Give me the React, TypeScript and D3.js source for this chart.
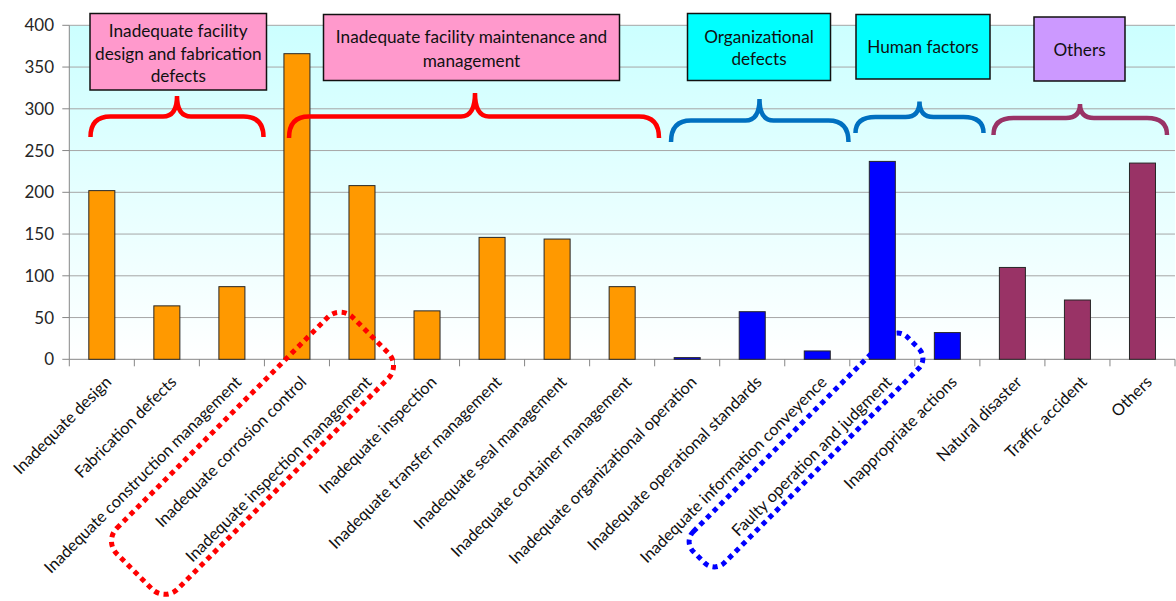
import React from "react";
import * as d3 from "d3";

const categories = [
  "Inadequate design",
  "Fabrication defects",
  "Inadequate construction management",
  "Inadequate corrosion control",
  "Inadequate inspection management",
  "Inadequate inspection",
  "Inadequate transfer management",
  "Inadequate seal management",
  "Inadequate container management",
  "Inadequate organizational operation",
  "Inadequate operational standards",
  "Inadequate information conveyence",
  "Faulty operation and judgment",
  "Inappropriate actions",
  "Natural disaster",
  "Traffic accident",
  "Others",
];
const values = [202, 64, 87, 366, 208, 58, 146, 144, 87, 2, 57, 10, 237, 32, 110, 71, 235];
const groups = ["facility", "facility", "facility", "facility", "facility", "facility", "facility", "facility", "facility",
  "human", "human", "human", "human", "human", "others", "others", "others"];
const yTicks = [0, 50, 100, 150, 200, 250, 300, 350, 400];

const groupColor: Record<string, string> = { facility: "#FF9900", human: "#0000FF", others: "#993366" };

const boxes = [
  { x0: 90, x1: 266.5, y0: 13.5, y1: 90, fill: "#FF99CC", lines: ["Inadequate facility", "design and fabrication", "defects"], ys: [31, 53.5, 76] },
  { x0: 323.5, x1: 619.5, y0: 14.5, y1: 80.5, fill: "#FF99CC", lines: ["Inadequate facility maintenance and", "management"], ys: [37, 60.5] },
  { x0: 687.5, x1: 830.5, y0: 13.5, y1: 80.5, fill: "#00FFFF", lines: ["Organizational", "defects"], ys: [36.5, 58.5] },
  { x0: 856, x1: 990, y0: 14.5, y1: 79, fill: "#00FFFF", lines: ["Human factors"], ys: [47] },
  { x0: 1034, x1: 1125, y0: 17, y1: 81, fill: "#CC99FF", lines: ["Others"], ys: [50] },
];

const braces = [
  { x0: 90.5, x1: 263.5, yB: 137, yH: 116.5, xT: 177, yT: 96, color: "#FF0000" },
  { x0: 289, x1: 659, yB: 138, yH: 116.5, xT: 475, yT: 93, color: "#FF0000" },
  { x0: 671, x1: 848.5, yB: 142, yH: 120.5, xT: 759.5, yT: 99, color: "#0070C0" },
  { x0: 855.5, x1: 983.5, yB: 133, yH: 117, xT: 919.5, yT: 101.5, color: "#0070C0" },
  { x0: 993.5, x1: 1167, yB: 135, yH: 118, xT: 1080, yT: 104, color: "#993366" },
];

const dottedRects = [
  { cx: 252.5, cy: 453.3, w: 334, h: 86, r: 18, color: "#FF0000" },
  { cx: 806, cy: 450, w: 303, h: 44, r: 14, color: "#0000FF" },
];

function bracePath(b: { x0: number; x1: number; yB: number; yH: number; xT: number; yT: number }) {
  const rc = 20;
  const rt = 14;
  return `M${b.x0},${b.yB} Q${b.x0},${b.yH} ${b.x0 + rc},${b.yH} L${b.xT - rt},${b.yH} Q${b.xT},${b.yH} ${b.xT},${b.yT} Q${b.xT},${b.yH} ${b.xT + rt},${b.yH} L${b.x1 - rc},${b.yH} Q${b.x1},${b.yH} ${b.x1},${b.yB}`;
}

export default function App() {
  const W = 1176, H = 601;
  const left = 69.3, right = 1175, top = 25.3, bottom = 359.3;
  const x = d3.scaleBand<string>().domain(categories).range([left, right]).padding(0);
  const y = d3.scaleLinear().domain([0, 400]).range([bottom, top]);
  const bw = x.bandwidth();
  const barW = bw * 0.4;
  const font = "Lato, 'Open Sans', sans-serif";
  const bounds = categories.map((c) => x(c)!).concat([right]);

  return (
    <svg width={W} height={H} style={{ position: "absolute", left: 0, top: 0, background: "#fff" }} fontFamily={font}>
      <defs>
        <linearGradient id="bg" x1="0" y1="0" x2="0" y2="1">
          <stop offset="0" stopColor="#CCFFFF" />
          <stop offset="1" stopColor="#FFFFFF" />
        </linearGradient>
      </defs>
      <rect x={left} y={top} width={right - left} height={bottom - top} fill="url(#bg)" />
      {yTicks.map((t) => (
        <g key={t}>
          {t > 0 && <line x1={left} x2={right} y1={y(t)} y2={y(t)} stroke="#A6A6A6" strokeWidth={1} />}
          <line x1={left - 7} x2={left} y1={y(t)} y2={y(t)} stroke="#868686" strokeWidth={1} />
          <text x={54} y={y(t)} dy="0.35em" textAnchor="end" fontSize={17} fill="#262626">{t}</text>
        </g>
      ))}
      <line x1={left} x2={left} y1={top} y2={bottom} stroke="#868686" strokeWidth={1} />
      <line x1={left} x2={right} y1={bottom} y2={bottom} stroke="#868686" strokeWidth={1} />
      {bounds.map((b, i) => (
        <line key={i} x1={b} x2={b} y1={bottom} y2={bottom + 7} stroke="#868686" strokeWidth={1} />
      ))}
      {categories.map((c, i) => (
        <rect key={c} x={x(c)! + (bw - barW) / 2} y={y(values[i])} width={barW} height={bottom - y(values[i])}
          fill={groupColor[groups[i]]} stroke="#262626" strokeWidth={1} />
      ))}
      {categories.map((c) => {
        const cx = x(c)! + bw / 2 + 6.5;
        return (
          <text key={c} transform={`translate(${cx},379) rotate(-45)`} textAnchor="end" dy="0.35em" fontSize={16.3} fill="#111">{c}</text>
        );
      })}
      {braces.map((b, i) => (
        <path key={i} d={bracePath(b)} fill="none" stroke={b.color} strokeWidth={4.5} />
      ))}
      {boxes.map((b, i) => (
        <g key={i}>
          <rect x={b.x0} y={b.y0} width={b.x1 - b.x0} height={b.y1 - b.y0} fill={b.fill} stroke="#111" strokeWidth={1.5} />
          {b.lines.map((l, j) => (
            <text key={j} x={(b.x0 + b.x1) / 2} y={b.ys[j]} dy="0.35em" textAnchor="middle" fontSize={17.2} fill="#111">{l}</text>
          ))}
        </g>
      ))}
      {dottedRects.map((r, i) => (
        <rect key={i} transform={`translate(${r.cx},${r.cy}) rotate(-45)`} x={-r.w / 2} y={-r.h / 2} width={r.w} height={r.h}
          rx={r.r} ry={r.r} fill="none" stroke={r.color} strokeWidth={5} strokeDasharray="5 4.5" />
      ))}
    </svg>
  );
}
